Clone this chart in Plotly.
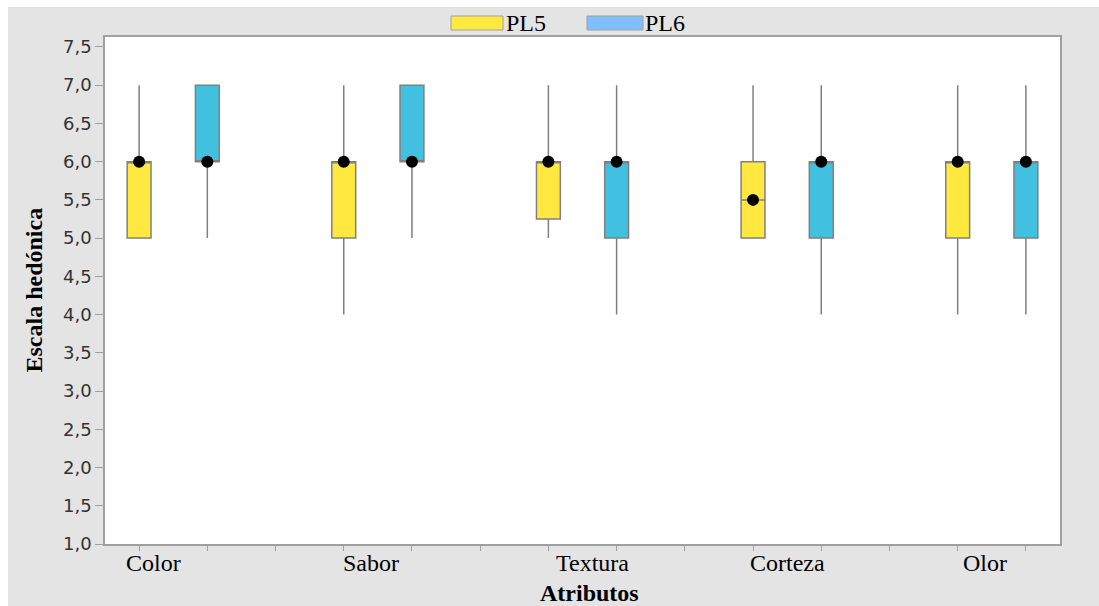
import plotly.graph_objects as go

categories = ["Color", "Sabor", "Textura", "Corteza", "Olor"]
series = ["PL5", "PL6"]

pl5_min = [5, 4, 5, 5, 4]
pl5_q1 = [5, 5, 5.25, 5, 5]
pl5_med = [6, 6, 6, 5.5, 6]
pl5_q3 = [6, 6, 6, 6, 6]
pl5_max = [7, 7, 7, 7, 7]

pl6_min = [5, 5, 4, 4, 4]
pl6_q1 = [6, 6, 5, 5, 5]
pl6_med = [6, 6, 6, 6, 6]
pl6_q3 = [7, 7, 6, 6, 6]
pl6_max = [7, 7, 7, 7, 7]

y_ticks = [1.0, 1.5, 2.0, 2.5, 3.0, 3.5, 4.0, 4.5, 5.0, 5.5, 6.0, 6.5, 7.0, 7.5]

YELLOW = "#FFE940"
BLUE = "#42C0E0"
LEG_BLUE = "#80BFFF"
EDGE = "#808080"
SERIF = "Liberation Serif, Times New Roman, serif"
SANS = "DejaVu Sans, Verdana, sans-serif"

# slot positions: each group uses 2 slots plus one gap slot
pos5 = [3 * i for i in range(len(categories))]
pos6 = [3 * i + 1 for i in range(len(categories))]

fig = go.Figure()
for pos, q1, med, q3, lo, hi, col, name in [
    (pos5, pl5_q1, pl5_med, pl5_q3, pl5_min, pl5_max, YELLOW, series[0]),
    (pos6, pl6_q1, pl6_med, pl6_q3, pl6_min, pl6_max, BLUE, series[1]),
]:
    fig.add_trace(go.Box(
        x=pos, q1=q1, median=med, q3=q3, lowerfence=lo, upperfence=hi,
        width=0.35, fillcolor=col, line=dict(color=EDGE, width=1.5),
        boxpoints=False, whiskerwidth=0, name=name, showlegend=False,
        hoverinfo="skip",
    ))
    fig.add_trace(go.Scatter(
        x=pos, y=med, mode="markers",
        marker=dict(color="black", size=12, symbol="circle"),
        showlegend=False, hoverinfo="skip",
    ))

W, H = 1099, 606
L, R, T, B = 105, 39, 37, 62
pw, ph = W - L - R, H - T - B


def px(x):
    return (x - L) / pw


def py(y):
    return (H - B - y) / ph


shapes = [
    # white outer margin strips (top/left)
    dict(type="rect", xref="paper", yref="paper", x0=px(-5), x1=px(8), y0=py(W), y1=py(-5),
         fillcolor="white", line=dict(width=0), layer="above"),
    dict(type="rect", xref="paper", yref="paper", x0=px(-5), x1=px(W + 5), y0=py(7), y1=py(-5),
         fillcolor="white", line=dict(width=0), layer="above"),
    # legend swatches
    dict(type="rect", xref="paper", yref="paper", x0=px(451), x1=px(503), y0=py(30), y1=py(16),
         fillcolor=YELLOW, line=dict(color="#a0a0a0", width=1)),
    dict(type="rect", xref="paper", yref="paper", x0=px(587), x1=px(643), y0=py(30), y1=py(16),
         fillcolor=LEG_BLUE, line=dict(color="#a0a0a0", width=1)),
]

annotations = [
    dict(text=series[0], xref="paper", yref="paper", x=px(504), y=py(23), xanchor="left",
         yanchor="middle", showarrow=False, font=dict(family=SERIF, size=24, color="black")),
    dict(text=series[1], xref="paper", yref="paper", x=px(643), y=py(23), xanchor="left",
         yanchor="middle", showarrow=False, font=dict(family=SERIF, size=24, color="black")),
]
label_px = [153, 371, 592, 787, 985]
for cat, lx in zip(categories, label_px):
    annotations.append(dict(text=cat, xref="paper", yref="paper", x=px(lx), y=py(563),
                            xanchor="center", yanchor="middle", showarrow=False,
                            font=dict(family=SERIF, size=24, color="black")))
annotations.append(dict(text="<b>Atributos</b>", xref="paper", yref="paper", x=px(589), y=py(593),
                        xanchor="center", yanchor="middle", showarrow=False,
                        font=dict(family=SERIF, size=24, color="black")))
annotations.append(dict(text="<b>Escala hedónica</b>", xref="paper", yref="paper", x=px(33), y=0.5,
                        xanchor="center", yanchor="middle", showarrow=False, textangle=-90,
                        font=dict(family=SERIF, size=24, color="black")))

fig.update_layout(
    width=W, height=H,
    margin=dict(l=L, r=R, t=T, b=B),
    paper_bgcolor="#E4E4E4",
    plot_bgcolor="white",
    separators=",.",
    shapes=shapes,
    annotations=annotations,
    showlegend=False,
    xaxis=dict(range=[-0.5, 13.5], tickvals=list(range(14)), ticktext=[""] * 14,
               ticks="outside", ticklen=5, tickcolor="#a0a0a0", showgrid=False,
               zeroline=False, showline=True, linecolor="#a0a0a0", linewidth=1.5, mirror=True),
    yaxis=dict(range=[1.0, 7.63], tickvals=y_ticks, tickformat=".1f",
               ticks="outside", ticklen=8, tickcolor="#a0a0a0", showgrid=False,
               zeroline=False, showline=True, linecolor="#a0a0a0", linewidth=1.5, mirror=True,
               tickfont=dict(family=SANS, size=18, color="#333")),
)

fig.write_html("out.html")
